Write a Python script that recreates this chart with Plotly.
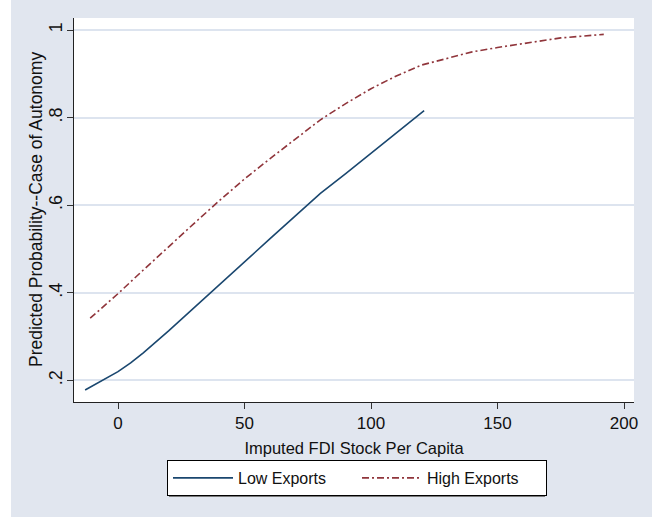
import plotly.graph_objects as go

# Predicted probability of autonomy by imputed FDI stock per capita
low_fdi = [-13, -5, 0, 5, 10, 20, 30, 40, 50, 60, 70, 80, 90, 100, 110, 121]
low_prob = [0.178, 0.203, 0.220, 0.240, 0.263, 0.313, 0.366, 0.419, 0.471,
            0.523, 0.575, 0.627, 0.672, 0.718, 0.765, 0.816]

high_fdi = [-11, 0, 10, 20, 30, 40, 50, 60, 70, 80, 90, 100, 110, 120,
            130, 140, 150, 165, 175, 192]
high_prob = [0.342, 0.398, 0.452, 0.506, 0.558, 0.610, 0.660, 0.706, 0.750,
             0.795, 0.832, 0.866, 0.895, 0.920, 0.935, 0.950, 0.960, 0.974,
             0.982, 0.990]

x_ticks = [0, 50, 100, 150, 200]
y_ticks = [0.2, 0.4, 0.6, 0.8, 1.0]
y_tick_text = [".2", ".4", ".6", ".8", "1"]

NAVY = "#1a476f"
MAROON = "#90353b"
BG = "#e1e6ef"
GRID = "#dde4ef"
SANS = "Liberation Sans, Arial, sans-serif"

fig = go.Figure()
fig.add_trace(go.Scatter(x=low_fdi, y=low_prob, mode="lines", name="Low Exports",
                         line=dict(color=NAVY, width=1.6)))
fig.add_trace(go.Scatter(x=high_fdi, y=high_prob, mode="lines", name="High Exports",
                         line=dict(color=MAROON, width=1.6, dash="7px,3px,2px,3px")))

L, R, T, B = 74, 18, 18, 115
W, H = 652, 517
pw = W - L - R
ph = H - T - B


def px_x(p):
    return (p - L) / pw


def px_y(p):
    return (H - B - p) / ph


# white strip along the left edge of the canvas
fig.add_shape(type="rect", xref="paper", yref="paper", layer="below",
              x0=px_x(0), x1=px_x(11), y0=px_y(H), y1=px_y(0),
              fillcolor="white", line=dict(width=0))

# drop shadow under the legend box
fig.add_shape(type="rect", xref="paper", yref="paper", layer="below",
              x0=px_x(169), x1=px_x(545), y0=px_y(497), y1=px_y(470),
              fillcolor="#7a7a7a", line=dict(width=0))

# y-axis title
fig.add_annotation(text="Predicted Probability--Case of Autonomy", textangle=-90,
                   xref="paper", yref="paper", x=px_x(36), y=0.5,
                   xanchor="center", yanchor="middle", showarrow=False,
                   font=dict(family=SANS, size=17.5, color="#111"))

fig.update_layout(
    width=W, height=H,
    margin=dict(l=L, r=R, t=T, b=B),
    paper_bgcolor=BG, plot_bgcolor="white",
    font=dict(family=SANS, size=16, color="#111"),
    showlegend=True,
    legend=dict(orientation="h", x=px_x(167), xanchor="left", y=px_y(460), yanchor="top",
                bgcolor="white", bordercolor="black", borderwidth=1,
                font=dict(family=SANS, size=16), itemwidth=60, entrywidth=114,
                tracegroupgap=0),
)

fig.update_xaxes(
    range=[-17.39, 203.95], tickvals=x_ticks, ticks="outside", ticklen=6,
    tickcolor="#333", showline=True, linecolor="#222", linewidth=1,
    showgrid=False, zeroline=False,
    tickfont=dict(family=SANS, size=17),
    title=dict(text="Imputed FDI Stock Per Capita", standoff=10,
               font=dict(family=SANS, size=16.5)),
)
fig.update_yaxes(
    range=[0.1507, 1.0274], tickvals=y_ticks, ticktext=y_tick_text, tickangle=-90,
    ticks="outside", ticklen=6, tickcolor="#333", showline=True, linecolor="#222",
    linewidth=1, showgrid=True, gridcolor=GRID, gridwidth=1.5, zeroline=False,
    tickfont=dict(family=SANS, size=18), ticklabelstandoff=-2,
)

fig.write_html("out.html")
